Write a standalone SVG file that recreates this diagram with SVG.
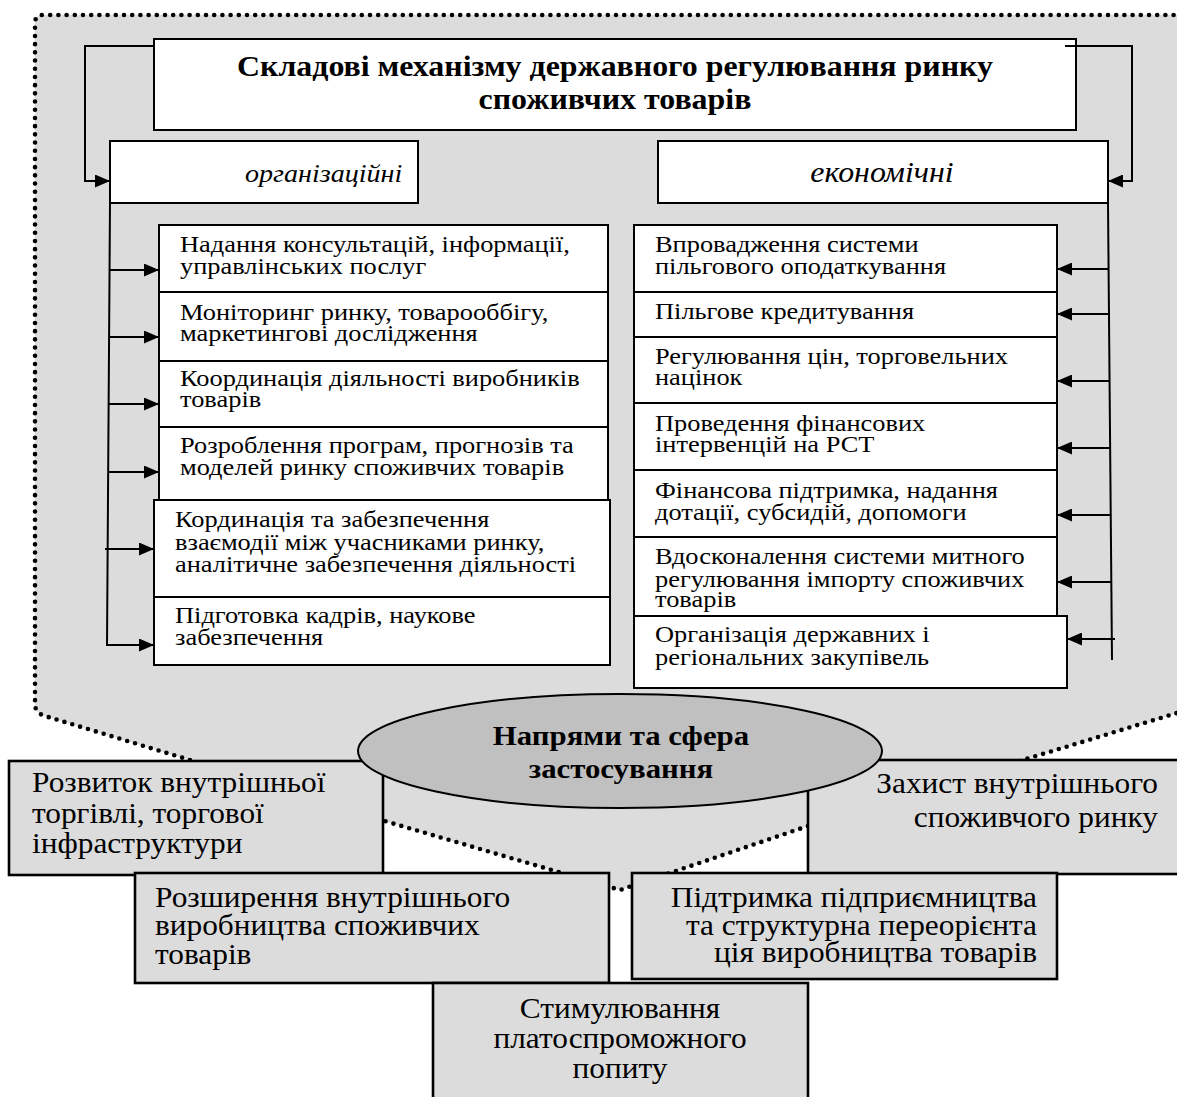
<svg xmlns="http://www.w3.org/2000/svg" width="1177" height="1097" viewBox="0 0 1177 1097">
<style>
text { font-family: "Liberation Serif", "Times New Roman", serif; fill: #000; transform-box: fill-box; transform: scaleX(1.1); }
.l { text-anchor: start; transform-origin: left; }
.c { text-anchor: middle; transform-origin: center; }
.r { text-anchor: end; transform-origin: right; }
.lt { font-size: 24px; }
.tt { font-size: 29px; font-weight: bold; }
.it { font-size: 25.5px; font-style: italic; }
.it2 { font-size: 29px; font-style: italic; }
.bt { font-size: 28.5px; }
.et { font-size: 28px; font-weight: bold; }
.wbox { fill: #fff; stroke: #000; stroke-width: 2; }
.gbox { fill: #dcdcdc; stroke: #000; stroke-width: 2.6; }
.conn { fill: none; stroke: #000; stroke-width: 2; }
.dots { stroke: #000; stroke-width: 4.6; stroke-linecap: round; stroke-dasharray: 0 8.2; }
</style>
<defs>
<marker id="ah" markerWidth="15" markerHeight="13" refX="15" refY="6.5" orient="auto" markerUnits="userSpaceOnUse">
<path d="M0,0 L15,6.5 L0,13 z" fill="#000"/>
</marker>
</defs>

<g id="region">
<path class="dots" fill="#dcdcdc" d="M1190 15 L43 15 Q35 15 35 23 L35 704 Q35 713 45 716 L190 760 L388 822 L620 890 L808 826 L1023 760 L1190 709 Z"/>
</g>

<g id="title">
<rect class="wbox" x="154" y="39" width="922" height="91"/>
<text class="tt c" x="615" y="76">Складові механізму державного регулювання ринку</text>
<text class="tt c" x="615" y="109">споживчих товарів</text>
</g>

<g id="org">
<rect class="wbox" x="110" y="141" width="308" height="62"/>
<text class="it l" x="245" y="182">організаційні</text>
</g>

<g id="econ">
<rect class="wbox" x="658" y="141" width="450" height="62"/>
<text class="it2 c" x="882" y="182">економічні</text>
</g>

<g id="org1">
<rect class="wbox" x="159" y="225" width="449" height="67"/>
<text class="lt l" x="180" y="252">Надання консультацій, інформації,</text>
<text class="lt l" x="180" y="274">управлінських послуг</text>
</g>
<g id="org2">
<rect class="wbox" x="159" y="292" width="449" height="69"/>
<text class="lt l" x="180" y="320">Моніторинг ринку, товарооббігу,</text>
<text class="lt l" x="180" y="341">маркетингові дослідження</text>
</g>
<g id="org3">
<rect class="wbox" x="159" y="361" width="449" height="66"/>
<text class="lt l" x="180" y="386">Координація діяльності виробників</text>
<text class="lt l" x="180" y="407">товарів</text>
</g>
<g id="org4">
<rect class="wbox" x="159" y="427" width="449" height="73"/>
<text class="lt l" x="180" y="453">Розроблення програм, прогнозів та</text>
<text class="lt l" x="180" y="475">моделей ринку споживчих товарів</text>
</g>
<g id="org5">
<rect class="wbox" x="154" y="500" width="456" height="97"/>
<text class="lt l" x="175" y="527">Кординація та забезпечення</text>
<text class="lt l" x="175" y="550">взаємодії між учасниками ринку,</text>
<text class="lt l" x="175" y="572">аналітичне забезпечення діяльності</text>
</g>
<g id="org6">
<rect class="wbox" x="154" y="597" width="456" height="68"/>
<text class="lt l" x="175" y="623">Підготовка кадрів, наукове</text>
<text class="lt l" x="175" y="645">забезпечення</text>
</g>

<g id="eco1">
<rect class="wbox" x="634" y="225" width="423" height="67"/>
<text class="lt l" x="655" y="252">Впровадження системи</text>
<text class="lt l" x="655" y="274">пільгового оподаткування</text>
</g>
<g id="eco2">
<rect class="wbox" x="634" y="292" width="423" height="45"/>
<text class="lt l" x="655" y="319">Пільгове кредитування</text>
</g>
<g id="eco3">
<rect class="wbox" x="634" y="337" width="423" height="66"/>
<text class="lt l" x="655" y="364">Регулювання цін, торговельних</text>
<text class="lt l" x="655" y="385">націнок</text>
</g>
<g id="eco4">
<rect class="wbox" x="634" y="403" width="423" height="67"/>
<text class="lt l" x="655" y="431">Проведення фінансових</text>
<text class="lt l" x="655" y="452">інтервенцій на РСТ</text>
</g>
<g id="eco5">
<rect class="wbox" x="634" y="470" width="423" height="67"/>
<text class="lt l" x="655" y="498">Фінансова підтримка, надання</text>
<text class="lt l" x="655" y="520">дотації, субсидій, допомоги</text>
</g>
<g id="eco6">
<rect class="wbox" x="634" y="537" width="423" height="79"/>
<text class="lt l" x="655" y="564">Вдосконалення системи митного</text>
<text class="lt l" x="655" y="587">регулювання імпорту споживчих</text>
<text class="lt l" x="655" y="607">товарів</text>
</g>
<g id="eco7">
<rect class="wbox" x="634" y="616" width="433" height="72"/>
<text class="lt l" x="655" y="642">Організація державних і</text>
<text class="lt l" x="655" y="665">регіональних закупівель</text>
</g>

<g id="connectors">
<path class="conn" d="M154 46 L85 46 L85 181 L110 181" marker-end="url(#ah)"/>
<path class="conn" d="M1065 46 L1132 46 L1132 181 L1108 181" marker-end="url(#ah)"/>
<path class="conn" d="M110 203 L107 645 L154 645" marker-end="url(#ah)"/>
<path class="conn" d="M109 270 L159 270" marker-end="url(#ah)"/>
<path class="conn" d="M109 337 L159 337" marker-end="url(#ah)"/>
<path class="conn" d="M109 404 L159 404" marker-end="url(#ah)"/>
<path class="conn" d="M108 472 L159 472" marker-end="url(#ah)"/>
<path class="conn" d="M105 549 L154 549" marker-end="url(#ah)"/>
<path class="conn" d="M1108 203 L1112 660"/>
<path class="conn" d="M1109 269 L1057 269" marker-end="url(#ah)"/>
<path class="conn" d="M1109 314 L1057 314" marker-end="url(#ah)"/>
<path class="conn" d="M1110 381 L1057 381" marker-end="url(#ah)"/>
<path class="conn" d="M1110 448 L1057 448" marker-end="url(#ah)"/>
<path class="conn" d="M1111 515 L1057 515" marker-end="url(#ah)"/>
<path class="conn" d="M1111 582 L1057 582" marker-end="url(#ah)"/>
<path class="conn" d="M1115 639 L1067 639" marker-end="url(#ah)"/>
</g>

<g id="rozvytok">
<rect class="gbox" x="9" y="761" width="374" height="114"/>
<text class="bt l" x="32" y="792">Розвиток внутрішньої</text>
<text class="bt l" x="32" y="823">торгівлі, торгової</text>
<text class="bt l" x="32" y="853">інфраструктури</text>
</g>
<g id="zakhyst">
<rect class="gbox" x="808" y="760" width="375" height="114"/>
<text class="bt r" x="1158" y="793">Захист внутрішнього</text>
<text class="bt r" x="1158" y="827">споживчого ринку</text>
</g>
<g id="napriamy">
<ellipse cx="620" cy="751" rx="262" ry="57" fill="#c0c0c0" stroke="#000" stroke-width="2"/>
<text class="et c" x="621" y="745">Напрями та сфера</text>
<text class="et c" x="621" y="778">застосування</text>
</g>
<g id="rozshyrennia">
<rect class="gbox" x="135" y="873" width="474" height="110"/>
<text class="bt l" x="155" y="907">Розширення внутрішнього</text>
<text class="bt l" x="155" y="935">виробництва споживчих</text>
<text class="bt l" x="155" y="964">товарів</text>
</g>
<g id="pidtrymka">
<rect class="gbox" x="632" y="873" width="425" height="106" stroke-width="2"/>
<text class="bt r" x="1037" y="907">Підтримка підприємництва</text>
<text class="bt r" x="1037" y="935">та структурна переорієнта</text>
<text class="bt r" x="1037" y="962">ція виробництва товарів</text>
</g>
<g id="stymuliuvannia">
<rect class="gbox" x="433" y="983" width="375" height="120"/>
<text class="bt c" x="620" y="1018">Стимулювання</text>
<text class="bt c" x="620" y="1048">платоспроможного</text>
<text class="bt c" x="620" y="1078">попиту</text>
</g>
</svg>
